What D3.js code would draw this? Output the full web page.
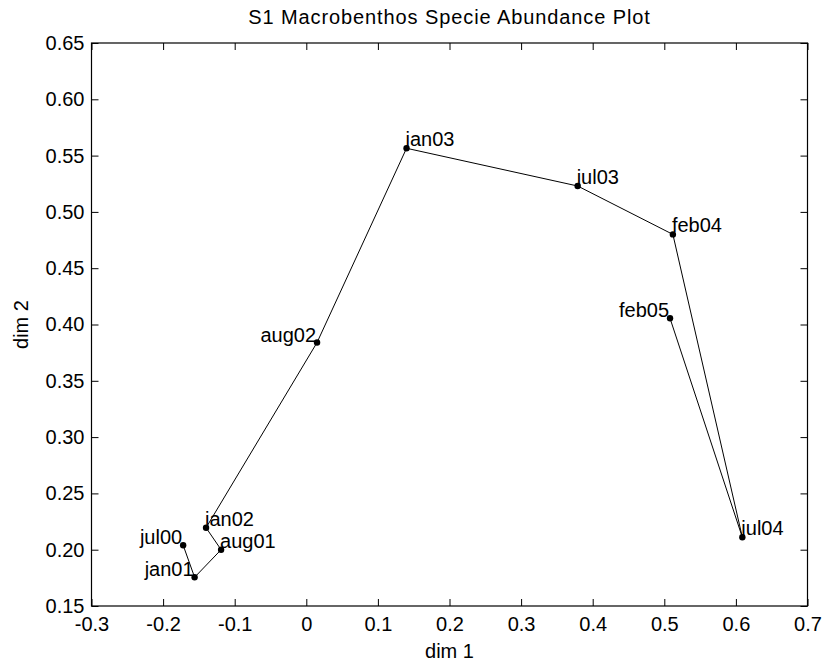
<!DOCTYPE html>
<html>
<head>
<meta charset="utf-8">
<script src="https://cdn.jsdelivr.net/npm/d3@7"></script>
<style>
  html, body { margin: 0; padding: 0; background: #fff; }
  svg { display: block; font-family: "Liberation Sans", Arial, sans-serif; }
</style>
</head>
<body>
<svg id="chart" width="824" height="668"></svg>
<script>
// ---- data ----
const labels = ["jul00", "jan01", "aug01", "jan02", "aug02", "jan03", "jul03", "feb04", "jul04", "feb05"];
const dim1 = [-0.172, -0.156, -0.119, -0.140, 0.015, 0.140, 0.379, 0.512, 0.609, 0.508];
const dim2 = [0.204, 0.1755, 0.200, 0.2195, 0.384, 0.5565, 0.523, 0.480, 0.211, 0.4055];
const labelSide = ["left", "left", "right", "right", "left", "right", "right", "right", "right", "left"];
const xTicks = [-0.3, -0.2, -0.1, 0, 0.1, 0.2, 0.3, 0.4, 0.5, 0.6, 0.7];
const yTicks = [0.15, 0.20, 0.25, 0.30, 0.35, 0.40, 0.45, 0.50, 0.55, 0.60, 0.65];
const titleText = "S1 Macrobenthos Specie Abundance Plot";
const xLabel = "dim 1";
const yLabel = "dim 2";

// ---- layout ----
const L = 91.5, R = 807.5, T = 43, B = 606;
const svg = d3.select("#chart");
const x = d3.scaleLinear().domain([-0.3, 0.7]).range([L, R]);
const y = d3.scaleLinear().domain([0.15, 0.65]).range([B, T]);
const fs = 20;
const tickLen = 7;
const FONT = '"Liberation Sans", Arial, sans-serif';

const fmtX = v => v === 0 ? "0" : d3.format(".1f")(v).replace("\u2212", "-");
const fmtY = v => d3.format(".2f")(v).replace("\u2212", "-");

// axes (ticks inward on all four sides)
const gB = svg.append("g").attr("transform", `translate(0,${B})`)
  .call(d3.axisBottom(x).tickValues(xTicks).tickFormat(fmtX).tickSizeInner(-tickLen).tickSizeOuter(0).tickPadding(11));
const gT = svg.append("g").attr("transform", `translate(0,${T})`)
  .call(d3.axisTop(x).tickValues(xTicks).tickFormat("").tickSizeInner(-tickLen).tickSizeOuter(0));
const gL = svg.append("g").attr("transform", `translate(${L},0)`)
  .call(d3.axisLeft(y).tickValues(yTicks).tickFormat(fmtY).tickSizeInner(-tickLen).tickSizeOuter(0).tickPadding(7));
const gR = svg.append("g").attr("transform", `translate(${R},0)`)
  .call(d3.axisRight(y).tickValues(yTicks).tickFormat("").tickSizeInner(-tickLen).tickSizeOuter(0));

[gB, gT, gL, gR].forEach(g => {
  g.select(".domain").remove();
  g.selectAll("line").attr("stroke", "#000").attr("stroke-width", 1);
  g.selectAll("text").attr("fill", "#000").style("font-size", fs + "px").style("font-family", FONT);
});

// box
svg.append("rect").attr("x", L).attr("y", T).attr("width", R - L).attr("height", B - T)
  .attr("fill", "none").attr("stroke", "#000").attr("stroke-width", 1.2);

// data
const pts = labels.map((d, i) => ({ name: d, x: dim1[i], y: dim2[i], side: labelSide[i] }));

svg.append("path").datum(pts)
  .attr("d", d3.line().x(d => x(d.x)).y(d => y(d.y)))
  .attr("fill", "none").attr("stroke", "#000").attr("stroke-width", 1);

svg.selectAll("circle.pt").data(pts).enter().append("circle")
  .attr("class", "pt")
  .attr("cx", d => x(d.x)).attr("cy", d => y(d.y)).attr("r", 3.2).attr("fill", "#000");

svg.selectAll("text.lbl").data(pts).enter().append("text")
  .attr("class", "lbl")
  .attr("x", d => x(d.x) - 1)
  .attr("y", d => d.side === "right" ? y(d.y) - 2 : y(d.y) - 1)
  .attr("text-anchor", d => d.side === "right" ? "start" : "end")
  .style("font-size", fs + "px")
  .attr("fill", "#000")
  .text(d => d.name);

// titles
svg.append("text").attr("x", (L + R) / 2).attr("y", 24).attr("text-anchor", "middle")
  .style("font-size", fs + "px").style("letter-spacing", "0.9px").attr("fill", "#000").text(titleText);
svg.append("text").attr("x", (L + R) / 2).attr("y", 658).attr("text-anchor", "middle")
  .style("font-size", fs + "px").attr("fill", "#000").text(xLabel);
svg.append("text").attr("transform", `translate(28,${(T + B) / 2}) rotate(-90)`).attr("text-anchor", "middle")
  .style("font-size", fs + "px").attr("fill", "#000").text(yLabel);
</script>
</body>
</html>
